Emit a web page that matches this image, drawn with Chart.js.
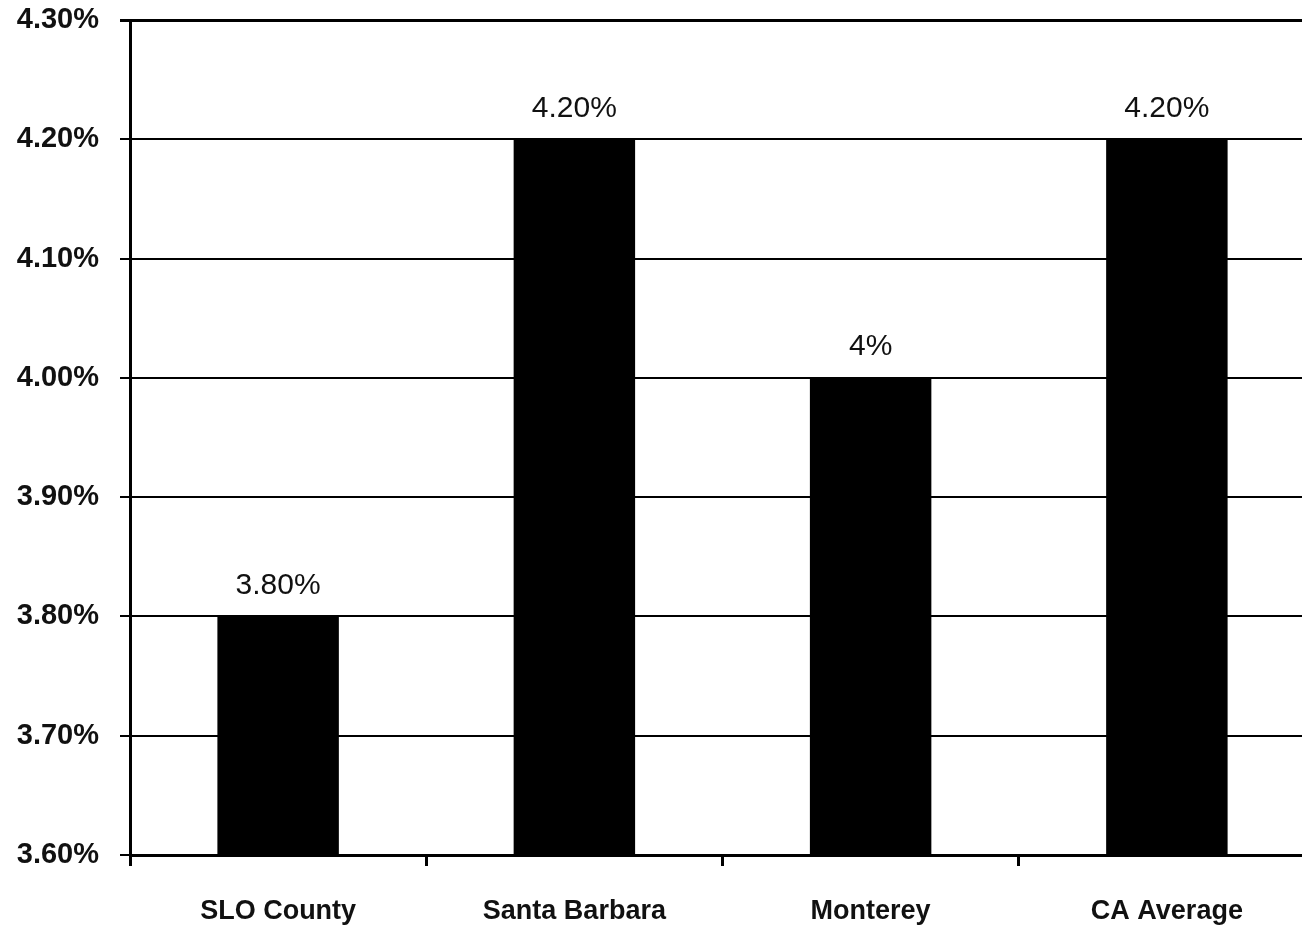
<!DOCTYPE html>
<html>
<head>
<meta charset="utf-8">
<script src="https://cdn.jsdelivr.net/npm/chart.js@4"></script>
<style>
  html, body { margin: 0; padding: 0; background: #fff; overflow: hidden; }
</style>
</head>
<body>
<canvas id="rateChart" width="1316" height="926"></canvas>
<script>
const categories = ["SLO County", "Santa Barbara", "Monterey", "CA Average"];
const rates = [3.8, 4.2, 4.0, 4.2];
const rateLabels = ["3.80%", "4.20%", "4%", "4.20%"];
const yMin = 3.6, yMax = 4.3, yStep = 0.1;

// labels above the bars
const barLabels = {
  id: "barLabels",
  afterDatasetsDraw(chart) {
    const ctx = chart.ctx;
    const meta = chart.getDatasetMeta(0);
    ctx.save();
    ctx.font = "30px 'Liberation Sans', Arial, sans-serif";
    ctx.fillStyle = "#111";
    ctx.textAlign = "center";
    ctx.textBaseline = "middle";
    meta.data.forEach(function (bar, i) {
      ctx.fillText(rateLabels[i], bar.x, bar.y - 31);
    });
    ctx.restore();
  }
};

new Chart(document.getElementById("rateChart"), {
  type: "bar",
  data: {
    labels: categories,
    datasets: [{
      data: rates,
      backgroundColor: "#000",
      borderWidth: 0,
      categoryPercentage: 1,
      barPercentage: 0.41
    }]
  },
  options: {
    responsive: false,
    animation: false,
    layout: { padding: { top: 20, right: 1, left: 0, bottom: 0 } },
    plugins: {
      legend: { display: false },
      tooltip: { enabled: false }
    },
    scales: {
      x: {
        offset: true,
        grid: {
          offset: true,
          drawOnChartArea: false,
          drawTicks: true,
          tickLength: 11,
          color: "#000",
          lineWidth: 3
        },
        border: { display: true, color: "#000", width: 3 },
        ticks: {
          color: "#111",
          padding: 29,
          font: { family: "'Liberation Sans', Arial, sans-serif", size: 27, weight: "bold" }
        },
        afterFit(scale) { scale.height = 71; scale.paddingLeft = 0; scale.paddingRight = 0; }
      },
      y: {
        min: yMin,
        max: yMax,
        grid: {
          color: "#000",
          lineWidth: function (c) { return c.index === 7 ? 3 : 2; },
          drawTicks: true,
          tickLength: 10
        },
        border: { display: true, color: "#000", width: 3 },
        ticks: {
          stepSize: yStep,
          color: "#111",
          padding: 21,
          font: { family: "'Liberation Sans', Arial, sans-serif", size: 29, weight: "bold" },
          callback: function (v) { return v.toFixed(2) + "%"; }
        },
        afterFit(scale) { scale.width = 130; scale.paddingTop = 0; scale.paddingBottom = 0; }
      }
    }
  },
  plugins: [barLabels]
});
</script>
</body>
</html>
